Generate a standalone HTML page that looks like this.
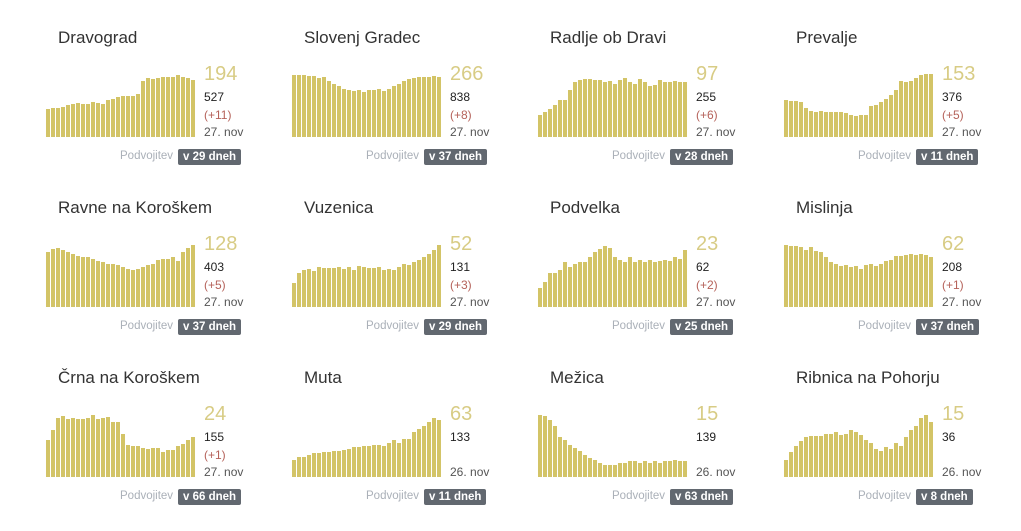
<!DOCTYPE html>
<html><head><meta charset="utf-8"><style>
body{margin:0;width:1021px;height:503px;background:#fff;overflow:hidden;position:relative;font-family:"Liberation Sans",sans-serif}
.c{position:absolute;width:246px;height:170px}
.t{position:absolute;left:24px;top:7px;font-size:17px;color:#333}
.ch{position:absolute;left:0;top:52px;width:152px;height:64px}
.b{position:absolute;bottom:0;width:4px;background:#d3c467}
.big{position:absolute;top:42px;font-size:20px;color:#d8cc85}
.n{position:absolute;font-size:12px}
.pd{position:absolute;top:129px;font-size:11.5px;color:#aab0b8}
.bd{position:absolute;top:128px;background:#626870;color:#fff;font-weight:bold;font-size:11.5px;padding:2px 5px;border-radius:2px}
</style></head><body>
<script>
const D=[
["Dravograd","194","527","(+11)","27. nov","v 29 dneh",[.45,.46,.47,.48,.52,.53,.55,.54,.53,.56,.55,.54,.6,.62,.64,.66,.66,.66,.7,.9,.95,.94,.95,.96,.96,.97,1,.96,.95,.92]],
["Slovenj Gradec","266","838","(+8)","27. nov","v 37 dneh",[1,1,1,.98,.98,.95,.97,.9,.85,.82,.78,.76,.74,.75,.73,.75,.76,.78,.74,.78,.82,.86,.9,.93,.95,.96,.96,.97,.98,.97]],
["Radlje ob Dravi","97","255","(+6)","27. nov","v 28 dneh",[.35,.4,.45,.52,.6,.6,.75,.88,.92,.93,.93,.92,.92,.88,.9,.86,.92,.95,.88,.86,.94,.88,.82,.84,.92,.88,.88,.9,.88,.88]],
["Prevalje","153","376","(+5)","27. nov","v 11 dneh",[.6,.58,.58,.57,.46,.42,.4,.42,.4,.4,.4,.4,.38,.36,.34,.35,.35,.5,.52,.56,.62,.68,.75,.9,.88,.9,.95,1,1.02,1.02]],
["Ravne na Koroškem","128","403","(+5)","27. nov","v 37 dneh",[.88,.93,.95,.92,.88,.85,.82,.8,.8,.78,.74,.72,.7,.7,.68,.64,.62,.6,.62,.64,.68,.7,.75,.78,.78,.8,.74,.88,.95,1]],
["Vuzenica","52","131","(+3)","27. nov","v 29 dneh",[.38,.55,.6,.62,.58,.65,.63,.63,.63,.64,.62,.64,.6,.66,.64,.63,.63,.64,.6,.62,.6,.64,.7,.68,.72,.75,.8,.85,.92,1]],
["Podvelka","23","62","(+2)","27. nov","v 25 dneh",[.3,.4,.55,.55,.6,.72,.65,.7,.72,.72,.8,.88,.94,.98,.95,.8,.75,.72,.8,.72,.76,.72,.76,.72,.74,.76,.74,.8,.78,.92]],
["Mislinja","62","208","(+1)","27. nov","v 37 dneh",[1,.98,.98,.97,.92,.96,.9,.88,.8,.72,.7,.66,.68,.64,.66,.62,.68,.7,.66,.7,.74,.76,.82,.82,.84,.86,.84,.86,.84,.8]],
["Črna na Koroškem","24","155","(+1)","27. nov","v 66 dneh",[.6,.75,.95,.98,.93,.95,.93,.93,.95,1,.93,.95,.97,.88,.88,.7,.52,.5,.5,.47,.45,.46,.46,.4,.44,.44,.5,.53,.6,.65]],
["Muta","63","133","","26. nov","v 11 dneh",[.28,.32,.32,.35,.38,.38,.4,.4,.42,.42,.44,.45,.48,.48,.5,.5,.52,.52,.5,.55,.6,.55,.62,.62,.72,.78,.82,.88,.95,.92]],
["Mežica","15","139","","26. nov","v 63 dneh",[1,.98,.92,.82,.65,.6,.52,.47,.42,.36,.3,.28,.22,.2,.2,.2,.22,.22,.25,.26,.22,.26,.22,.26,.22,.25,.26,.28,.26,.26]],
["Ribnica na Pohorju","15","36","","26. nov","v 8 dneh",[.28,.4,.5,.58,.65,.66,.66,.66,.7,.7,.72,.68,.7,.76,.72,.68,.6,.55,.45,.42,.48,.45,.55,.5,.65,.75,.82,.95,1,.88]]
];
let h='';
D.forEach((d,i)=>{const x=34+(i%4)*246,y=21+Math.floor(i/4)*170;
let bars='';d[6].forEach((v,j)=>{bars+=`<div class="b" style="left:${12+j*5}px;height:${Math.round(v*62)}px"></div>`});
h+=`<div class="c" style="left:${x}px;top:${y}px"><div class="t">${d[0]}</div><div class="ch">${bars}</div>
<div class="big" style="left:170px">${d[1]}</div>
<div class="n" style="left:170px;top:69px;color:#222">${d[2]}</div>
<div class="n" style="left:170px;top:87px;color:#b5625a">${d[3]}</div>
<div class="n" style="left:170px;top:104px;color:#555">${d[4]}</div>
<div class="pd" style="left:86px">Podvojitev</div><div class="bd" style="left:144px">${d[5]}</div></div>`;});
document.write(h);
</script>
</body></html>
